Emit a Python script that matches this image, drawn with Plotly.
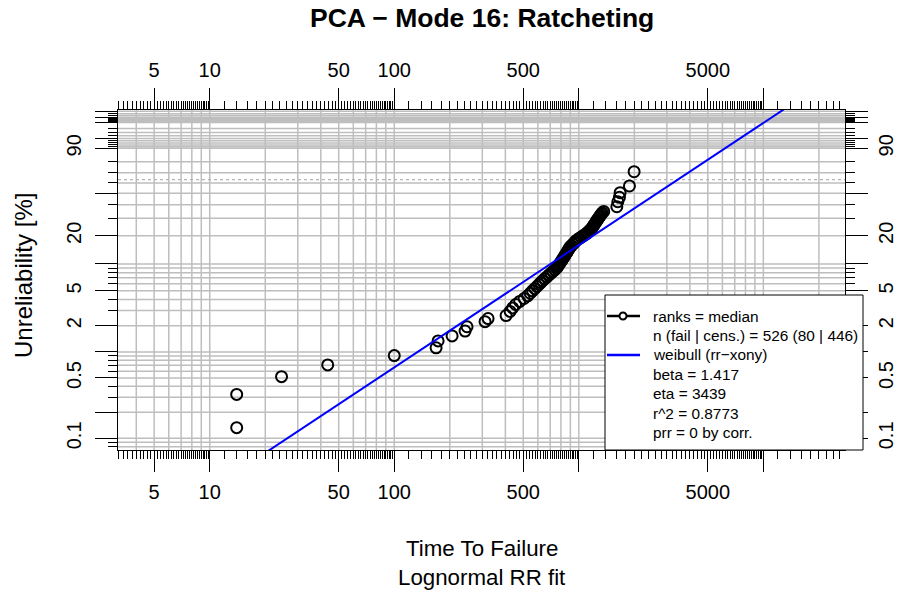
import numpy as np
import plotly.graph_objects as go

# ---------------- data ----------------
fail_time = [14, 14, 24.5, 43.6, 100, 168.5, 172.8, 205.8, 242, 248, 310.5, 322.4, 403.6, 424.3,
             438.1, 454.6, 478.4, 505.3, 528.4, 545.3, 561.2, 577.6, 592.9, 607.9, 622.3,
             637.3, 654.6, 672.4, 690.2, 706.8, 723.8, 741.2, 757.1, 767.6, 778.3, 788.9, 798.8, 808.4, 818.0,
             829.4, 839.8, 850.3, 860.5, 870.7, 879.6, 889.5, 898.4, 913.0, 930.4, 946.8, 962.2, 981.0,
             1005.1, 1030.4, 1055.1, 1080.4, 1105.1, 1121.8, 1140.0, 1158.8, 1177.6,
             1191.0, 1204.5, 1218.0, 1231.7, 1244.2, 1256.6, 1269.1, 1281.9, 1296.2, 1309.4, 1324.2, 1340.8, 1364.5,
             1607, 1627, 1660, 1674, 1881, 1994]
fail_unrel = [0.133, 0.323, 0.518, 0.708, 0.907, 1.116, 1.34, 1.53, 1.74, 1.95, 2.23, 2.42, 2.62, 2.92,
              3.2, 3.5, 3.8, 4.1, 4.4, 4.7, 5.0, 5.3, 5.6, 5.9, 6.2,
              6.5, 6.85, 7.2, 7.55, 7.9, 8.25, 8.6, 8.95, 9.3, 9.7, 10.1, 10.5, 10.9, 11.3,
              11.8, 12.3, 12.8, 13.3, 13.8, 14.3, 14.8, 15.3, 15.8, 16.4, 17.0, 17.6, 18.2,
              18.8, 19.4, 20.0, 20.6, 21.2, 21.8, 22.5, 23.2, 23.9,
              24.7, 25.5, 26.3, 27.1, 27.9, 28.7, 29.5, 30.3, 31.1, 32.0, 32.9, 33.8, 34.8,
              38.4, 42.5, 46.4, 50.6, 57.0, 70.9]

fit_time = [20, 13000]
fit_unrel = [0.0679, 99.8614]

x_major = [5, 10, 50, 100, 500, 1000, 5000, 10000]
x_major_text = ["5", "10", "50", "100", "500", "", "5000", ""]
x_grid = [4, 5, 6, 7, 8, 9, 10, 20, 30, 40, 50, 60, 70, 80, 90, 100, 200, 300, 400, 500, 600, 700,
          800, 900, 1000, 2000, 3000, 4000, 5000, 6000, 7000, 8000, 9000, 10000, 20000]

y_major = [0.1, 0.2, 0.5, 1, 2, 5, 10, 20, 50, 90, 95, 99, 99.5, 99.8]
y_major_text = ["0.1", "", "0.5", "", "2", "5", "", "20", "", "90", "", "", "", ""]
y_grid = [0.08, 0.09, 0.1, 0.2, 0.3, 0.4, 0.5, 0.6, 0.7, 0.8, 0.9,
          1, 2, 3, 4, 5, 6, 7, 8, 9, 10, 20, 30, 40, 50, 60, 70, 80, 90,
          91, 92, 93, 94, 95, 96, 97, 98, 99, 99.1, 99.2, 99.3, 99.4, 99.5, 99.6, 99.7, 99.8]
eta_line = 63.2

legend_lines = ["ranks = median", "n (fail | cens.) = 526 (80 | 446)", "weibull (rr\u2212xony)",
                "beta = 1.417", "eta = 3439", "r^2 = 0.8773", "prr = 0 by corr."]

title = "PCA \u2212 Mode 16: Ratcheting"
xlab = "Time To Failure"
sublab = "Lognormal RR fit"
ylab = "Unreliability [%]"

# ---------------- layout helpers ----------------
W, H = 899, 592
ML, MR, MT, MB = 118, 54, 110, 142
PW, PH = W - ML - MR, H - MT - MB
FONT = "Liberation Sans, Arial, sans-serif"


def wb(p):
    p = np.asarray(p, dtype=float) / 100.0
    return np.log(-np.log(1.0 - p))


def px(xp):
    return (xp - ML) / PW


def py(yp):
    return (H - MB - yp) / PH


XR = [0.503, 4.4425]
YR = [-7.218, 1.858]

x_minor = np.concatenate([np.arange(3.2, 9.9, 0.2), np.arange(12, 99, 2), np.arange(120, 990, 20),
                          np.arange(1200, 9900, 200), np.arange(12000, 27000, 2000)])
x_minor = [float(v) for v in x_minor]
y_minor = [v for v in y_grid if v not in y_major]

fig = go.Figure()

# data points
fig.add_trace(go.Scatter(x=fail_time, y=wb(fail_unrel), mode="markers",
                         marker=dict(symbol="circle-open", size=11, color="black", line=dict(width=2, color="black")),
                         showlegend=False, cliponaxis=True))
# fitted line
fig.add_trace(go.Scatter(x=fit_time, y=wb(fit_unrel), mode="lines",
                         line=dict(color="#0000FF", width=2), showlegend=False))
# dummy for overlaying axes
fig.add_trace(go.Scatter(x=[None], y=[None], xaxis="x2", yaxis="y2", showlegend=False))

shapes = []
GRID = "#BEBEBE"
for v in x_grid:
    shapes.append(dict(type="line", xref="x", yref="paper", x0=v, x1=v, y0=0, y1=1,
                       line=dict(color=GRID, width=1.5), layer="below"))
for v in wb(y_grid):
    shapes.append(dict(type="line", xref="paper", yref="y", x0=0, x1=1, y0=float(v), y1=float(v),
                       line=dict(color=GRID, width=1.5), layer="below"))
ev = float(wb([eta_line])[0])
shapes.append(dict(type="line", xref="paper", yref="y", x0=0, x1=1, y0=ev, y1=ev,
                   line=dict(color="#B4B4B4", width=1.3, dash="dot"), layer="below"))

# legend box
lx0, ly0, lx1, ly1 = 605, 295, 863, 450
shapes.append(dict(type="rect", xref="paper", yref="paper", x0=px(lx0), x1=px(lx1), y0=py(ly1), y1=py(ly0),
                   line=dict(color="black", width=1), fillcolor="white", layer="above"))
row_y = [316 + i * 19.45 for i in range(len(legend_lines))]
shapes.append(dict(type="line", xref="paper", yref="paper", x0=px(607), x1=px(640), y0=py(row_y[0]), y1=py(row_y[0]),
                   line=dict(color="black", width=2.5), layer="above"))
shapes.append(dict(type="circle", xref="paper", yref="paper", x0=px(619.5), x1=px(626.5),
                   y0=py(row_y[0] + 3.5), y1=py(row_y[0] - 3.5),
                   line=dict(color="black", width=2), fillcolor="white", layer="above"))
shapes.append(dict(type="line", xref="paper", yref="paper", x0=px(607), x1=px(640), y0=py(row_y[2]), y1=py(row_y[2]),
                   line=dict(color="#0000FF", width=2.5), layer="above"))

annotations = []
for t, yy in zip(legend_lines, row_y):
    annotations.append(dict(text=t, xref="paper", yref="paper", x=px(651), y=py(yy), xanchor="left",
                            yanchor="middle", showarrow=False, font=dict(size=15.4, color="black", family=FONT)))
annotations.append(dict(text="<b>" + title + "</b>", xref="paper", yref="paper", x=px(481.5), y=py(18),
                        xanchor="center", yanchor="middle", showarrow=False,
                        font=dict(size=26.5, color="black", family=FONT)))
annotations.append(dict(text=xlab, xref="paper", yref="paper", x=px(481.5), y=py(548),
                        xanchor="center", yanchor="middle", showarrow=False,
                        font=dict(size=22.3, color="black", family=FONT)))
annotations.append(dict(text=sublab, xref="paper", yref="paper", x=px(481.5), y=py(577),
                        xanchor="center", yanchor="middle", showarrow=False,
                        font=dict(size=22.3, color="black", family=FONT)))
annotations.append(dict(text=ylab, xref="paper", yref="paper", x=px(23), y=py(276), textangle=-90,
                        xanchor="center", yanchor="middle", showarrow=False,
                        font=dict(size=24, color="black", family=FONT)))

tickfont = dict(size=20, color="black", family=FONT)
xcommon = dict(type="log", range=XR, tickmode="array", tickvals=x_major, ticktext=x_major_text,
               ticks="outside", ticklen=21, tickwidth=1, tickcolor="black", ticklabelstandoff=3,
               minor=dict(tickmode="array", tickvals=x_minor, ticks="outside", ticklen=8, tickwidth=1,
                          tickcolor="black", showgrid=False),
               showgrid=False, zeroline=False, showline=True, linecolor="black", linewidth=1,
               tickfont=tickfont, fixedrange=True, automargin=False)
ycommon = dict(range=YR, tickmode="array", tickvals=[float(v) for v in wb(y_major)], ticktext=y_major_text,
               ticks="outside", ticklen=22, tickwidth=1, tickcolor="black", tickangle=-90,
               minor=dict(tickmode="array", tickvals=[float(v) for v in wb(y_minor)], ticks="outside", ticklen=9,
                          tickwidth=1, tickcolor="black", showgrid=False),
               showgrid=False, zeroline=False, showline=True, linecolor="black", linewidth=1,
               tickfont=tickfont, fixedrange=True, automargin=False)

fig.update_layout(
    width=W, height=H,
    margin=dict(l=ML, r=MR, t=MT, b=MB, pad=0),
    paper_bgcolor="white", plot_bgcolor="rgba(0,0,0,0)",
    xaxis=dict(**xcommon, side="bottom", anchor="y"),
    xaxis2=dict(**xcommon, side="top", overlaying="x", anchor="y2"),
    yaxis=dict(**ycommon, side="left", anchor="x", ticklabelstandoff=6),
    yaxis2=dict(**ycommon, side="right", overlaying="y", anchor="x2", ticklabelstandoff=1),
    shapes=shapes, annotations=annotations, showlegend=False,
    font=dict(family=FONT, color="black"),
)

fig.write_html("out.html")
